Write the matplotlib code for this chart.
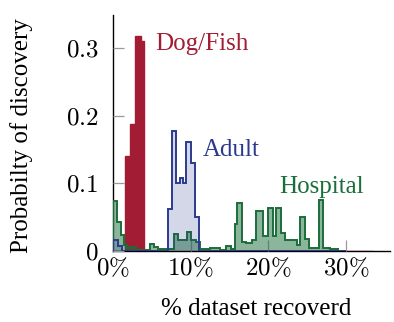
import matplotlib
matplotlib.use("Agg")
import matplotlib.pyplot as plt
from matplotlib.ticker import FuncFormatter

plt.rcParams["font.family"] = "Liberation Serif"
plt.rcParams["mathtext.fontset"] = "cm"

# step histograms: bin edges in % of dataset, probability per bin
dog_edges = [0, 1.6, 2.17, 2.82, 3.55, 4.03, 33.5]
dog_prob = [0, 0.14, 0.187, 0.318, 0.311, 0]

adult_edges = [0, 0.65, 1.2, 7.03, 7.55, 8.11, 8.58, 8.97, 9.46, 10.09,
               10.62, 11.13, 30.0]
adult_prob = [0.016, 0.007, 0, 0.061, 0.177, 0.100, 0.107, 0.100, 0.161,
              0.13, 0.049, 0]

hosp_edges = [0, 0.55, 1.0, 1.42, 1.8, 2.2, 3.0, 4.8, 5.3, 5.8, 7.9, 8.35,
              9.5, 10.1, 10.65, 11.15, 12.5, 13.8, 14.54, 15.23, 15.68, 16.0,
              16.65, 17.1, 17.87, 18.45, 19.35, 20.0, 20.58, 20.95, 21.6,
              22.2, 23.0, 23.68, 24.13, 24.77, 25.23, 26.5, 27.1, 28.0, 29.0]
hosp_prob = [0.073, 0.042, 0.023, 0.008, 0.003, 0.005, 0.001, 0.009, 0.005,
             0.002, 0.025, 0.015, 0.028, 0.016, 0.013, 0.002, 0.003, 0.001,
             0.006, 0.002, 0.040, 0.070, 0.013, 0.011, 0.016, 0.058, 0.022,
             0.063, 0.022, 0.063, 0.026, 0.016, 0.015, 0.008, 0.049, 0.017,
             0.003, 0.075, 0.004, 0.002]

x_ticks = [0, 10, 20, 30]
y_ticks = [0, 0.1, 0.2, 0.3]

red = "#a21c34"
blue = "#2b3a8f"
green = "#1a6e3a"

fig = plt.figure(figsize=(3.94, 3.22), dpi=100)
ax = fig.add_axes([113 / 394, 71.5 / 322, 277 / 394, 235.5 / 322])

ax.stairs(dog_prob, dog_edges, fill=True, facecolor=red, edgecolor=red,
          lw=1.0, zorder=2)
ax.stairs(hosp_prob, hosp_edges, fill=True, facecolor=(0.1, 0.43, 0.23, 0.5),
          edgecolor=green, lw=1.4, zorder=3)
ax.stairs(adult_prob, adult_edges, fill=True, facecolor=(0.17, 0.23, 0.56, 0.2),
          edgecolor=blue, lw=1.4, zorder=4)

ax.text(5.42, 0.306, "Dog/Fish", color=red, fontsize=18, va="center")
ax.text(11.6, 0.149, "Adult", color=blue, fontsize=18, va="center")
ax.text(21.4, 0.094, "Hospital", color=green, fontsize=18, va="center")

ax.set_xlim(0, 35.7)
ax.set_ylim(0, 0.349)
ax.set_xticks(x_ticks)
ax.set_yticks(y_ticks)
ax.xaxis.set_major_formatter(FuncFormatter(lambda v, p: r"$%d\%%$" % v))
ax.yaxis.set_major_formatter(
    FuncFormatter(lambda v, p: "$0$" if v == 0 else "$%.1f$" % v))
ax.tick_params(direction="in", length=8, width=0.9, color="#9a9a9a",
               labelsize=18)
ax.tick_params(axis="x", pad=4)
ax.tick_params(axis="y", pad=10.5)

for s in ["top", "right"]:
    ax.spines[s].set_visible(False)
for s in ["left", "bottom"]:
    ax.spines[s].set_zorder(0.5)
    ax.spines[s].set_linewidth(1.0)
ax.set_axisbelow(True)

fig.text(22 / 394, 1 - 136 / 322, "Probabilty of discovery", fontsize=18,
         rotation=90, ha="center", va="center")
fig.text(256 / 394, 1 - 309 / 322, "% dataset recoverd", fontsize=18,
         ha="center", va="center")

fig.savefig("out.png", dpi=100)
